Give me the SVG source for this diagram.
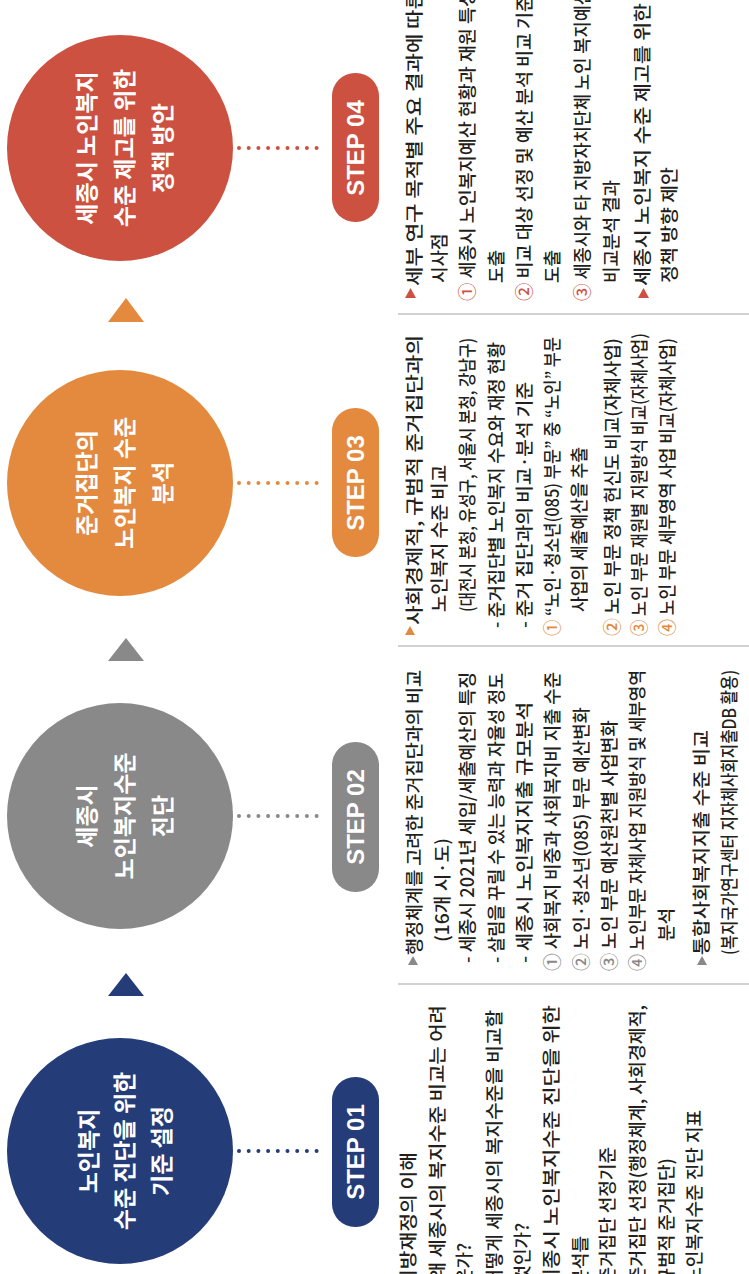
<svg xmlns="http://www.w3.org/2000/svg" width="749" height="1274" viewBox="0 0 749 1274">
<style>
.t{font-family:"Noto Sans CJK KR","Noto Sans",sans-serif;font-size:18px;font-weight:500;fill:#231f20}
.e{text-anchor:end}
.ct{font-family:"Noto Sans CJK KR","Noto Sans",sans-serif;font-size:23px;font-weight:700;fill:#fff;text-anchor:middle}
.st{font-family:"Liberation Sans",Arial,sans-serif;font-size:24px;font-weight:700;fill:#fff;text-anchor:middle}
.dot{fill:none;stroke-width:4;stroke-linecap:round;stroke-dasharray:0 9.7}
.sep{stroke:#d2d2d2;stroke-width:2}
.c1{fill:#243c78}.c2{fill:#898989}.c3{fill:#e38a3e}.c4{fill:#cd5140}
</style>
<rect width="749" height="1274" fill="#fff"/>
<g transform="matrix(0,-1,1,0,0,1274)">
<g id="dividers">
<line class="sep" x1="290" y1="398" x2="290" y2="749"/>
<line class="sep" x1="628" y1="398" x2="628" y2="749"/>
<line class="sep" x1="960" y1="398" x2="960" y2="749"/>
</g>
<g id="connectors">
<line class="dot" x1="123" y1="239" x2="123" y2="326" stroke="#243c78"/>
<line class="dot" x1="458" y1="239" x2="458" y2="326" stroke="#898989"/>
<line class="dot" x1="791" y1="239" x2="791" y2="326" stroke="#e38a3e"/>
<line class="dot" x1="1126" y1="239" x2="1126" y2="326" stroke="#cd5140"/>
<polygon class="c1" points="278,108 278,144 301,126"/>
<polygon class="c2" points="613,108 613,144 636,126"/>
<polygon class="c3" points="952,108 952,144 976,126"/>
</g>
<g id="step1">
<circle class="c1" cx="123" cy="120" r="113"/>
<text class="ct" x="123" y="97">노인복지</text>
<text class="ct" x="123" y="133">수준 진단을 위한</text>
<text class="ct" x="123" y="170">기준 설정</text>
<rect class="c1" x="47" y="332" width="150" height="47" rx="23"/>
<text class="st" x="122" y="364">STEP 01</text>
<polygon class="c1" points="-26,403 -26,413 -17,408"/>
<text class="t" x="-14" y="415" textLength="136" lengthAdjust="spacingAndGlyphs">지방재정의 이해</text>
<text class="t" x="-18" y="444" textLength="287" lengthAdjust="spacingAndGlyphs">- 왜 세종시의 복지수준 비교는 어려</text>
<text class="t e" x="31" y="471">운가?</text>
<text class="t" x="-24" y="501" textLength="288" lengthAdjust="spacingAndGlyphs">- 어떻게 세종시의 복지수준을 비교할</text>
<text class="t e" x="51" y="529">것인가?</text>
<polygon class="c1" points="-26,546 -26,556 -17,551"/>
<text class="t" x="-14" y="558" textLength="283" lengthAdjust="spacingAndGlyphs">세종시 노인복지수준 진단을 위한</text>
<text class="t e" x="38" y="587">분석틀</text>
<text class="t e" x="127" y="614"><tspan class="c1">①</tspan> 준거집단 선정기준</text>
<text class="t" x="-32" y="644" textLength="301" lengthAdjust="spacingAndGlyphs"><tspan class="c1">②</tspan> 준거집단 선정(행정체계, 사회경제적,</text>
<text class="t e" x="116" y="673">규범적 준거집단)</text>
<text class="t e" x="164" y="701"><tspan class="c1">③</tspan> 노인복지수준 진단 지표</text>
</g>
<g id="step2">
<circle class="c2" cx="458" cy="120" r="113"/>
<text class="ct" x="458" y="95">세종시</text>
<text class="ct" x="458" y="133">노인복지수준</text>
<text class="ct" x="458" y="171">진단</text>
<rect class="c2" x="382" y="332" width="150" height="47" rx="23"/>
<text class="st" x="457" y="364">STEP 02</text>
<polygon class="c2" points="309,408 309,418 318,413"/>
<text class="t" x="319" y="421" textLength="285" lengthAdjust="spacingAndGlyphs">행정체계를 고려한 준거집단과의 비교</text>
<text class="t" x="332" y="449" textLength="104" lengthAdjust="spacingAndGlyphs">(16개 시·도)</text>
<text class="t" x="311" y="474" textLength="291" lengthAdjust="spacingAndGlyphs">- 세종시 2021년 세입/세출예산의 특징</text>
<text class="t" x="311" y="503" textLength="290" lengthAdjust="spacingAndGlyphs">- 살림을 꾸릴 수 있는 능력과 자율성 정도</text>
<text class="t" x="311" y="531" textLength="261" lengthAdjust="spacingAndGlyphs">- 세종시 노인복지지출 규모분석</text>
<text class="t" x="303" y="559" textLength="299" lengthAdjust="spacingAndGlyphs"><tspan class="c2">①</tspan> 사회복지 비중과 사회복지비 지출 수준</text>
<text class="t" x="303" y="588" textLength="264" lengthAdjust="spacingAndGlyphs"><tspan class="c2">②</tspan> 노인·청소년(085) 부문 예산변화</text>
<text class="t" x="303" y="616" textLength="251" lengthAdjust="spacingAndGlyphs"><tspan class="c2">③</tspan> 노인 부문 예산원천별 사업변화</text>
<text class="t" x="303" y="644" textLength="301" lengthAdjust="spacingAndGlyphs"><tspan class="c2">④</tspan> 노인부문 자체사업 지원방식 및 세부영역</text>
<text class="t" x="333" y="673">분석</text>
<polygon class="c2" points="309,697 309,707 318,702"/>
<text class="t" x="319" y="708" textLength="225" lengthAdjust="spacingAndGlyphs">통합사회복지지출 수준 비교</text>
<text class="t" x="319" y="736" textLength="285" lengthAdjust="spacingAndGlyphs">(복지국가연구센터 지자체사회지출DB 활용)</text>
</g>
<g id="step3">
<circle class="c3" cx="791" cy="120" r="113"/>
<text class="ct" x="791" y="95">준거집단의</text>
<text class="ct" x="791" y="133">노인복지 수준</text>
<text class="ct" x="791" y="171">분석</text>
<rect class="c3" x="717" y="332" width="149" height="47" rx="23"/>
<text class="st" x="791" y="364">STEP 03</text>
<polygon class="c3" points="639,405 639,415 648,410"/>
<text class="t" x="649" y="421" textLength="290" lengthAdjust="spacingAndGlyphs">사회경제적, 규범적 준거집단과의</text>
<text class="t" x="662" y="446" textLength="147" lengthAdjust="spacingAndGlyphs">노인복지 수준 비교</text>
<text class="t" x="662" y="474" textLength="274" lengthAdjust="spacingAndGlyphs">(대전시 본청, 유성구, 서울시 본청, 강남구)</text>
<text class="t" x="646" y="503" textLength="286" lengthAdjust="spacingAndGlyphs">- 준거집단별 노인복지 수요와 재정 현황</text>
<text class="t" x="646" y="531" textLength="246" lengthAdjust="spacingAndGlyphs">- 준거 집단과의 비교·분석 기준</text>
<text class="t" x="638" y="559" textLength="299" lengthAdjust="spacingAndGlyphs"><tspan class="c3">①</tspan> “노인·청소년(085) 부문” 중 “노인” 부문</text>
<text class="t" x="662" y="586" textLength="165" lengthAdjust="spacingAndGlyphs">사업의 세출예산을 추출</text>
<text class="t" x="638" y="619" textLength="298" lengthAdjust="spacingAndGlyphs"><tspan class="c3">②</tspan> 노인 부문 정책 헌신도 비교(자체사업)</text>
<text class="t" x="638" y="646" textLength="303" lengthAdjust="spacingAndGlyphs"><tspan class="c3">③</tspan> 노인 부문 재원별 지원방식 비교(자체사업)</text>
<text class="t" x="638" y="674" textLength="298" lengthAdjust="spacingAndGlyphs"><tspan class="c3">④</tspan> 노인 부문 세부영역 사업 비교(자체사업)</text>
</g>
<g id="step4">
<circle class="c4" cx="1126" cy="120" r="113"/>
<text class="ct" x="1126" y="95">세종시 노인복지</text>
<text class="ct" x="1126" y="133">수준 제고를 위한</text>
<text class="ct" x="1126" y="171">정책 방안</text>
<rect class="c4" x="1052" y="332" width="149" height="47" rx="23"/>
<text class="st" x="1126" y="364">STEP 04</text>
<polygon class="c4" points="976,405 976,416 986,410.5"/>
<text class="t" x="988" y="421" textLength="296" lengthAdjust="spacingAndGlyphs">세부 연구 목적별 주요 결과에 따른</text>
<text class="t" x="991" y="446">시사점</text>
<text class="t" x="973" y="474" textLength="311" lengthAdjust="spacingAndGlyphs"><tspan class="c4">①</tspan> 세종시 노인복지예산 현황과 재원 특성</text>
<text class="t" x="991" y="503">도출</text>
<text class="t" x="973" y="531" textLength="306" lengthAdjust="spacingAndGlyphs"><tspan class="c4">②</tspan> 비교 대상 선정 및 예산 분석 비교 기준</text>
<text class="t" x="991" y="559">도출</text>
<text class="t" x="973" y="589" textLength="312" lengthAdjust="spacingAndGlyphs"><tspan class="c4">③</tspan> 세종시와 타 지방자치단체 노인 복지예산</text>
<text class="t" x="991" y="618" textLength="103" lengthAdjust="spacingAndGlyphs">비교분석 결과</text>
<polygon class="c4" points="976,638 976,649 986,643.5"/>
<text class="t" x="988" y="649" textLength="283" lengthAdjust="spacingAndGlyphs">세종시 노인복지 수준 제고를 위한</text>
<text class="t" x="991" y="676" textLength="116" lengthAdjust="spacingAndGlyphs">정책 방향 제안</text>
</g>
</g>
</svg>
